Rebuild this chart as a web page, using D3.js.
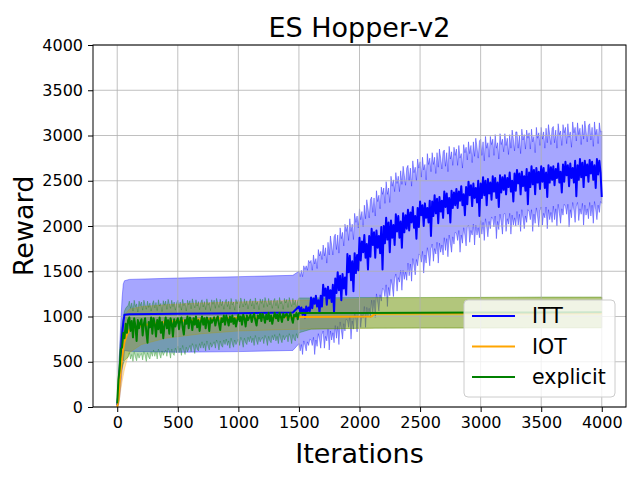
<!DOCTYPE html>
<html>
<head>
<meta charset="utf-8">
<style>
  body { margin: 0; background: #fff; }
  text { font-family: 'DejaVu Sans', sans-serif; fill: #000; }
</style>
<script src="https://cdn.jsdelivr.net/npm/d3@7"></script>
</head>
<body>
<div id="chart"></div>
<script>
// ticks
const xTicks = [0, 500, 1000, 1500, 2000, 2500, 3000, 3500, 4000]
const yTicks = [0, 500, 1000, 1500, 2000, 2500, 3000, 3500, 4000]

// iteration grid (every 10 iterations) for the noisy parts of the runs
const lateIters = d3.range(1500, 4001, 10)
const midIters = d3.range(100, 1501, 10)

// ITT (blue): flat part first, then one row per 100 iterations from 1500
const ittIters = [0, 10, 20, 30, 40, 50, 60, 100, 500, 1000, 1450].concat(lateIters)
const ittMean = [20, 150, 380, 600, 800, 930, 1020, 1025, 1030, 1035, 1045,
  1110, 1050, 1100, 1020, 1080, 990, 1110, 1050, 1100, 1060,
  1210, 1090, 1200, 1140, 1230, 1110, 1180, 1040, 1230, 1110,
  1350, 1230, 1310, 1130, 1330, 1200, 1290, 1160, 1350, 1040,
  1420, 1260, 1490, 1290, 1450, 1180, 1470, 1310, 1430, 1240,
  1690, 1490, 1670, 1400, 1610, 1280, 1700, 1480, 1680, 1510,
  1870, 1620, 1830, 1710, 1900, 1650, 1800, 1520, 1890, 1660,
  1970, 1790, 1930, 1650, 1950, 1760, 1890, 1700, 1990, 1520,
  2000, 1810, 2090, 1850, 2040, 1710, 2060, 1870, 2010, 1790,
  2130, 1940, 2110, 1870, 2050, 1760, 2140, 1930, 2120, 1970,
  2180, 1950, 2150, 2040, 2210, 1980, 2110, 1860, 2200, 1990,
  2270, 2120, 2230, 2000, 2250, 2090, 2200, 2040, 2280, 1890,
  2270, 2110, 2340, 2140, 2300, 2030, 2320, 2160, 2280, 2090,
  2380, 2210, 2360, 2140, 2310, 2040, 2390, 2200, 2370, 2230,
  2410, 2200, 2380, 2280, 2440, 2230, 2350, 2120, 2430, 2240,
  2490, 2340, 2450, 2220, 2470, 2310, 2420, 2260, 2500, 2110,
  2470, 2310, 2540, 2340, 2500, 2230, 2520, 2360, 2480, 2290,
  2550, 2380, 2530, 2310, 2480, 2210, 2560, 2370, 2540, 2400,
  2560, 2350, 2530, 2430, 2590, 2380, 2500, 2270, 2580, 2390,
  2620, 2470, 2580, 2350, 2600, 2440, 2550, 2390, 2630, 2240,
  2590, 2430, 2660, 2460, 2620, 2350, 2640, 2480, 2600, 2410,
  2660, 2490, 2640, 2420, 2590, 2320, 2670, 2480, 2650, 2510,
  2660, 2450, 2630, 2530, 2690, 2480, 2600, 2370, 2680, 2490,
  2710, 2560, 2670, 2440, 2690, 2530, 2640, 2480, 2720, 2330,
  2670, 2510, 2740, 2540, 2700, 2430, 2720, 2560, 2680, 2490,
  2730, 2580, 2710, 2510, 2670, 2420, 2740, 2570, 2720, 2590,
  2320]
const ittUpper = [30, 320, 650, 950, 1200, 1360, 1395, 1410, 1425, 1440, 1455,
  1500, 1440, 1510, 1440, 1560, 1520, 1560, 1510, 1620, 1590,
  1620, 1510, 1680, 1580, 1640, 1530, 1740, 1670, 1720, 1630,
  1790, 1670, 1760, 1590, 1820, 1680, 1890, 1790, 1680, 1880,
  1910, 1740, 1900, 1700, 1980, 1860, 1930, 1780, 2020, 1940,
  2010, 1840, 2080, 1940, 2020, 1850, 2140, 2040, 2110, 1980,
  2190, 2070, 2160, 1990, 2230, 2080, 2290, 2200, 2090, 2290,
  2320, 2150, 2310, 2110, 2390, 2270, 2340, 2190, 2430, 2350,
  2420, 2250, 2490, 2350, 2420, 2260, 2550, 2440, 2510, 2380,
  2590, 2470, 2550, 2380, 2610, 2460, 2660, 2560, 2450, 2640,
  2670, 2500, 2640, 2440, 2720, 2590, 2650, 2500, 2740, 2640,
  2710, 2540, 2760, 2620, 2680, 2510, 2800, 2680, 2750, 2600,
  2810, 2680, 2760, 2580, 2810, 2650, 2850, 2750, 2630, 2820,
  2840, 2660, 2810, 2600, 2880, 2740, 2820, 2670, 2870, 2780,
  2850, 2670, 2890, 2750, 2800, 2640, 2900, 2810, 2870, 2730,
  2930, 2800, 2890, 2700, 2930, 2770, 2970, 2870, 2750, 2940,
  2960, 2780, 2930, 2720, 2990, 2860, 2920, 2760, 2990, 2900,
  2960, 2780, 3010, 2860, 2920, 2740, 3020, 2900, 2960, 2820,
  3020, 2890, 2970, 2790, 3010, 2860, 3060, 2960, 2830, 3040,
  3040, 2860, 3000, 2800, 3070, 2950, 3010, 2850, 3060, 2970,
  3030, 2850, 3070, 2930, 2990, 2810, 3090, 2970, 3030, 2890,
  3090, 2960, 3040, 2860, 3080, 2920, 3120, 3010, 2900, 3080,
  3100, 2920, 3060, 2860, 3130, 3010, 3050, 2890, 3120, 3030,
  3090, 2910, 3130, 2980, 3040, 2870, 3150, 3030, 3090, 2940,
  3140, 3010, 3080, 2900, 3120, 2960, 3160, 3050, 2930, 3110,
  3130, 2950, 3090, 2880, 3150, 3010, 3070, 2910, 3140, 3040,
  3050]
const ittLower = [10, 20, 110, 250, 400, 500, 625, 615, 605, 612, 625,
  700, 620, 690, 580, 730, 680, 620, 720, 680, 750,
  740, 680, 770, 580, 740, 670, 810, 750, 650, 800,
  840, 650, 780, 730, 860, 630, 840, 740, 820, 710,
  900, 760, 890, 690, 940, 850, 750, 920, 840, 970,
  960, 880, 1000, 750, 950, 860, 1040, 960, 830, 1020,
  1070, 880, 1020, 980, 1110, 880, 1100, 1000, 1090, 990,
  1180, 1040, 1180, 990, 1250, 1160, 1060, 1240, 1170, 1310,
  1300, 1220, 1350, 1110, 1320, 1230, 1410, 1340, 1220, 1420,
  1470, 1280, 1430, 1380, 1510, 1290, 1510, 1410, 1490, 1400,
  1590, 1450, 1580, 1390, 1640, 1560, 1460, 1630, 1560, 1690,
  1680, 1600, 1720, 1480, 1680, 1590, 1760, 1680, 1560, 1750,
  1800, 1610, 1750, 1690, 1820, 1590, 1810, 1710, 1790, 1680,
  1870, 1730, 1860, 1660, 1900, 1810, 1710, 1880, 1800, 1930,
  1920, 1840, 1950, 1710, 1900, 1810, 1980, 1900, 1780, 1990,
  2010, 1820, 1950, 1900, 2020, 1790, 2010, 1900, 1980, 1870,
  2060, 1910, 2040, 1840, 2080, 1990, 1880, 2050, 1970, 2100,
  2080, 1990, 2110, 1860, 2050, 1960, 2130, 2040, 1910, 2130,
  2140, 1940, 2080, 2020, 2140, 1910, 2120, 2010, 2090, 2000,
  2160, 2010, 2130, 1940, 2180, 2080, 1970, 2110, 2040, 2180,
  2160, 2070, 2180, 1940, 2130, 2030, 2200, 2110, 1990, 2170,
  2210, 2010, 2140, 2090, 2210, 1970, 2180, 2070, 2150, 2040,
  2220, 2070, 2190, 2000, 2240, 2140, 2030, 2190, 2120, 2240,
  2220, 2130, 2240, 1990, 2180, 2090, 2260, 2170, 2040, 2220,
  2260, 2060, 2190, 2130, 2250, 2010, 2230, 2120, 2190, 2080,
  2260, 2110, 2230, 2030, 2270, 2180, 2070, 2230, 2150, 2270,
  2250]

// IOT (orange)
const iotIters = [0, 10, 20, 30, 40, 50, 60, 80, 100, 200, 400, 700, 1000, 1500, 2100, 2125, 3000, 4000]
const iotMean = [0, 80, 260, 420, 540, 640, 720, 800, 850, 900, 940, 970, 985, 995, 1000, 1030, 1032, 1035]
const iotUpper = [10, 250, 500, 700, 850, 950, 1000, 1050, 1080, 1110, 1130, 1150, 1160, 1180, 1200, 1205, 1210, 1212]
const iotLower = [0, 20, 100, 200, 280, 350, 420, 520, 600, 690, 760, 810, 840, 860, 870, 872, 874, 876]

// explicit (green): start, one row per 100 iterations up to 1500, then flat
const expIters = [0, 10, 20, 30, 40, 50, 60, 70, 80, 90].concat(midIters, [1600, 2000, 2500, 3000, 3500, 4000])
const expMean = [40, 300, 420, 640, 660, 820, 760, 920, 820, 960,
  990, 840, 950, 770, 980, 900, 730, 960, 870, 930,
  970, 790, 920, 980, 830, 710, 940, 880, 990, 810,
  980, 920, 780, 960, 860, 990, 820, 940, 760, 900,
  990, 870, 960, 810, 980, 920, 780, 970, 890, 940,
  980, 860, 950, 990, 880, 800, 960, 920, 1000, 870,
  990, 950, 850, 980, 910, 1000, 880, 960, 840, 940,
  1000, 910, 980, 870, 990, 950, 840, 980, 930, 960,
  990, 900, 970, 1000, 920, 850, 980, 940, 1010, 910,
  1010, 970, 900, 1000, 940, 1010, 920, 980, 890, 960,
  1020, 950, 1000, 910, 1020, 980, 890, 1010, 960, 990,
  1020, 940, 1000, 1030, 960, 900, 1010, 980, 1030, 950,
  1030, 1000, 930, 1020, 970, 1040, 950, 1010, 920, 990,
  1040, 980, 1020, 950, 1040, 1000, 940, 1030, 990, 1020,
  1030, 960, 1010, 1040, 980, 930, 1020, 1000, 1040, 970,
  1040,
  1040, 1040, 1042, 1044, 1045, 1048]
const expUpper = [80, 380, 620, 800, 920, 1000, 1060, 1090, 1110, 1120,
  1170, 1090, 1150, 1060, 1180, 1110, 1140, 1050, 1170, 1120,
  1160, 1070, 1180, 1130, 1080, 1170, 1100, 1150, 1060, 1140,
  1175, 1095, 1155, 1065, 1185, 1115, 1145, 1055, 1175, 1125,
  1170, 1080, 1190, 1140, 1090, 1180, 1110, 1160, 1070, 1150,
  1180, 1100, 1160, 1070, 1190, 1120, 1150, 1060, 1180, 1130,
  1175, 1085, 1195, 1145, 1095, 1185, 1115, 1165, 1075, 1155,
  1185, 1105, 1165, 1075, 1195, 1125, 1155, 1065, 1185, 1135,
  1180, 1090, 1200, 1150, 1100, 1190, 1120, 1170, 1080, 1160,
  1190, 1110, 1170, 1080, 1200, 1130, 1160, 1070, 1190, 1140,
  1185, 1095, 1205, 1155, 1105, 1195, 1125, 1175, 1085, 1165,
  1195, 1115, 1175, 1085, 1205, 1135, 1165, 1075, 1195, 1145,
  1190, 1100, 1210, 1160, 1110, 1200, 1130, 1180, 1090, 1170,
  1200, 1120, 1180, 1090, 1210, 1140, 1170, 1080, 1200, 1150,
  1190, 1100, 1210, 1160, 1110, 1200, 1130, 1180, 1090, 1170,
  1205,
  1205, 1210, 1210, 1212, 1215, 1215]
const expLower = [20, 140, 280, 380, 440, 480, 510, 530, 540, 550,
  600, 530, 580, 500, 610, 550, 510, 590, 540, 570,
  590, 520, 610, 570, 500, 600, 550, 530, 610, 560,
  630, 560, 610, 530, 640, 580, 540, 620, 570, 600,
  630, 560, 650, 610, 540, 640, 590, 570, 650, 600,
  670, 600, 650, 570, 680, 620, 580, 660, 610, 640,
  680, 610, 700, 660, 590, 690, 640, 620, 700, 650,
  720, 650, 700, 620, 730, 670, 630, 710, 660, 690,
  720, 650, 740, 700, 630, 730, 680, 660, 740, 690,
  750, 680, 730, 650, 760, 700, 660, 740, 690, 720,
  750, 680, 770, 730, 660, 760, 710, 690, 770, 720,
  780, 710, 760, 680, 790, 730, 690, 770, 720, 750,
  770, 700, 790, 750, 680, 780, 730, 710, 790, 740,
  800, 730, 780, 700, 810, 750, 710, 790, 740, 770,
  790, 720, 810, 770, 700, 800, 750, 730, 810, 760,
  820,
  860, 870, 872, 872, 875, 875]

const series = [
  { name: 'ITT', color: 'blue', alpha: 0.35, iters: ittIters, mean: ittMean, upper: ittUpper, lower: ittLower },
  { name: 'IOT', color: 'orange', alpha: 0.3, iters: iotIters, mean: iotMean, upper: iotUpper, lower: iotLower },
  { name: 'explicit', color: 'green', alpha: 0.3, iters: expIters, mean: expMean, upper: expUpper, lower: expLower }
]

const chart = {
  width: 640,
  height: 480,
  margin: { top: 45, right: 14, bottom: 73, left: 93 },

  draw(element) {
    const { width, height, margin } = this

    const svg = d3.select(`#${element}`)
      .append('svg')
      .attr('width', width)
      .attr('height', height)

    const x = d3.scaleLinear()
      .domain([-200, 4200])
      .range([margin.left, width - margin.right])

    const y = d3.scaleLinear()
      .domain([0, 4000])
      .range([height - margin.bottom, margin.top])

    const points = s => s.iters.map((it, i) => ({ it, m: s.mean[i], lo: s.lower[i], hi: s.upper[i] }))

    const area = d3.area()
      .x(d => x(d.it))
      .y0(d => y(d.lo))
      .y1(d => y(d.hi))

    const line = d3.line()
      .x(d => x(d.it))
      .y(d => y(d.m))

    // std bands
    svg.append('g').classed('bands', true)
      .selectAll('path')
      .data(series)
      .join('path')
      .attr('d', s => area(points(s)))
      .attr('fill', s => s.color)
      .attr('fill-opacity', s => s.alpha)
      .attr('stroke', s => s.color)
      .attr('stroke-opacity', s => s.alpha)
      .attr('stroke-width', 1)

    // grid sits between bands and lines
    const grid = svg.append('g').classed('grid', true)
      .attr('stroke', '#b0b0b0')
      .attr('stroke-width', 0.8)

    grid.selectAll('.gx')
      .data(xTicks)
      .join('line')
      .classed('gx', true)
      .attr('x1', d => x(d)).attr('x2', d => x(d))
      .attr('y1', y(0)).attr('y2', y(4000))

    grid.selectAll('.gy')
      .data(yTicks)
      .join('line')
      .classed('gy', true)
      .attr('x1', x(-200)).attr('x2', x(4200))
      .attr('y1', d => y(d)).attr('y2', d => y(d))

    // mean curves
    svg.append('g').classed('lines', true)
      .selectAll('path')
      .data(series)
      .join('path')
      .attr('d', s => line(points(s)))
      .attr('fill', 'none')
      .attr('stroke', s => s.color)
      .attr('stroke-width', 2)
      .attr('stroke-linejoin', 'round')

    // axes
    const xAxis = g => g
      .attr('transform', `translate(0,${height - margin.bottom})`)
      .call(d3.axisBottom(x).tickValues(xTicks).tickFormat(d3.format('d')).tickSize(5).tickPadding(5))
      .call(g => g.select('.domain').remove())

    const yAxis = g => g
      .attr('transform', `translate(${margin.left},0)`)
      .call(d3.axisLeft(y).tickValues(yTicks).tickFormat(d3.format('d')).tickSize(5).tickPadding(5))
      .call(g => g.select('.domain').remove())

    svg.append('g').call(xAxis)
    svg.append('g').call(yAxis)

    svg.selectAll('.tick text')
      .attr('font-size', 16)
      .attr('font-family', 'DejaVu Sans')
      .attr('fill', '#000')
    svg.selectAll('.tick line').attr('stroke', '#000')

    svg.append('rect')
      .attr('x', margin.left)
      .attr('y', margin.top)
      .attr('width', width - margin.left - margin.right)
      .attr('height', height - margin.top - margin.bottom)
      .attr('fill', 'none')
      .attr('stroke', '#000')
      .attr('stroke-width', 1)

    // titles
    const cx = (margin.left + width - margin.right) / 2
    svg.append('text')
      .attr('x', cx).attr('y', 37)
      .attr('text-anchor', 'middle')
      .attr('font-size', 27)
      .text('ES Hopper-v2')

    svg.append('text')
      .attr('x', cx).attr('y', 463)
      .attr('text-anchor', 'middle')
      .attr('font-size', 27)
      .text('Iterations')

    svg.append('text')
      .attr('transform', `translate(33,${(margin.top + height - margin.bottom) / 2}) rotate(-90)`)
      .attr('text-anchor', 'middle')
      .attr('font-size', 27)
      .text('Reward')

    // legend
    const legend = svg.append('g').attr('transform', 'translate(464,300)')
    legend.append('rect')
      .attr('width', 151).attr('height', 97)
      .attr('rx', 4)
      .attr('fill', '#fff').attr('fill-opacity', 0.8)
      .attr('stroke', '#cccccc')

    const item = legend.selectAll('.item')
      .data(series)
      .join('g')
      .classed('item', true)
      .attr('transform', (d, i) => `translate(0,${16 + i * 30.5})`)

    item.append('line')
      .attr('x1', 8).attr('x2', 51)
      .attr('stroke', d => d.color)
      .attr('stroke-width', 2)

    item.append('text')
      .attr('x', 68)
      .attr('dy', '0.36em')
      .attr('font-size', 20.5)
      .text(d => d.name)
  }
}

chart.draw('chart')
</script>
</body>
</html>
